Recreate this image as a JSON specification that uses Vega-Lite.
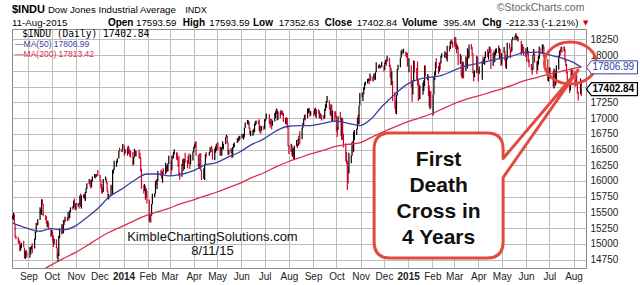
{
"$schema":"https://vega.github.io/schema/vega-lite/v6.json",
"width":574,"height":239,"autosize":"none",
"padding":{"left":12,"top":29,"right":54,"bottom":17},
"background":"white",
"config":{"view":{"stroke":"#8a8a8a","strokeWidth":1},"font":"Liberation Sans"},
"datasets":{
"bars":[
{"d":"2013-08-12","h":15450,"v":15390,"c":15419},{"d":"2013-08-13","h":15498,"v":15380,"c":15451},{"d":"2013-08-14","h":15470,"v":15327,"c":15337},{"d":"2013-08-15","h":15320,"v":15100,"c":15112},{"d":"2013-08-16","h":15130,"v":15071,"c":15081},{"d":"2013-08-19","h":15110,"v":15005,"c":15010},{"d":"2013-08-20","h":15072,"v":14995,"c":15002},{"d":"2013-08-21","h":15050,"v":14880,"c":14897},{"d":"2013-08-22","h":14990,"v":14892,"c":14963},{"d":"2013-08-23","h":15015,"v":14930,"c":15010},{"d":"2013-08-26","h":15050,"v":14944,"c":14946},{"d":"2013-08-27","h":14940,"v":14773,"c":14776},{"d":"2013-08-28","h":14880,"v":14760,"c":14824},{"d":"2013-08-29","h":14902,"v":14798,"c":14840},{"d":"2013-08-30","h":14870,"v":14777,"c":14810},
{"d":"2013-09-03","h":14950,"v":14777,"c":14834},{"d":"2013-09-04","h":14944,"v":14830,"c":14930},{"d":"2013-09-05","h":14970,"v":14910,"c":14937},{"d":"2013-09-06","h":15010,"v":14850,"c":14922},{"d":"2013-09-09","h":15080,"v":14925,"c":15063},{"d":"2013-09-10","h":15195,"v":15065,"c":15191},{"d":"2013-09-11","h":15330,"v":15180,"c":15326},{"d":"2013-09-12","h":15339,"v":15285,"c":15300},{"d":"2013-09-13","h":15390,"v":15300,"c":15376},{"d":"2013-09-16","h":15580,"v":15380,"c":15494},{"d":"2013-09-17","h":15545,"v":15480,"c":15529},{"d":"2013-09-18","h":15709,"v":15460,"c":15676},{"d":"2013-09-19","h":15705,"v":15625,"c":15636},{"d":"2013-09-20","h":15640,"v":15440,"c":15451},{"d":"2013-09-23","h":15455,"v":15380,"c":15401},{"d":"2013-09-24","h":15440,"v":15320,"c":15334},{"d":"2013-09-25","h":15360,"v":15260,"c":15273},{"d":"2013-09-26","h":15370,"v":15270,"c":15328},{"d":"2013-09-27","h":15330,"v":15225,"c":15258},{"d":"2013-09-30","h":15255,"v":15110,"c":15130},
{"d":"2013-10-01","h":15220,"v":15130,"c":15191},{"d":"2013-10-02","h":15190,"v":15040,"c":15133},{"d":"2013-10-03","h":15133,"v":14950,"c":14996},{"d":"2013-10-04","h":15082,"v":14990,"c":15072},{"d":"2013-10-07","h":15070,"v":14932,"c":14936},{"d":"2013-10-08","h":14940,"v":14770,"c":14776},{"d":"2013-10-09","h":14850,"v":14719,"c":14802},{"d":"2013-10-10","h":15130,"v":14805,"c":15126},{"d":"2013-10-11","h":15248,"v":15090,"c":15237},{"d":"2013-10-14","h":15310,"v":15150,"c":15301},{"d":"2013-10-15","h":15310,"v":15160,"c":15168},{"d":"2013-10-16","h":15376,"v":15170,"c":15373},{"d":"2013-10-17","h":15380,"v":15300,"c":15371},{"d":"2013-10-18","h":15430,"v":15350,"c":15399},{"d":"2013-10-21","h":15420,"v":15360,"c":15392},{"d":"2013-10-22","h":15510,"v":15390,"c":15467},{"d":"2013-10-23","h":15470,"v":15370,"c":15413},{"d":"2013-10-24","h":15530,"v":15410,"c":15509},{"d":"2013-10-25","h":15580,"v":15505,"c":15570},{"d":"2013-10-28","h":15600,"v":15540,"c":15568},{"d":"2013-10-29","h":15690,"v":15565,"c":15680},{"d":"2013-10-30","h":15720,"v":15590,"c":15618},{"d":"2013-10-31","h":15640,"v":15535,"c":15545},
{"d":"2013-11-01","h":15650,"v":15545,"c":15615},{"d":"2013-11-04","h":15650,"v":15590,"c":15639},{"d":"2013-11-05","h":15640,"v":15560,"c":15618},{"d":"2013-11-06","h":15770,"v":15620,"c":15746},{"d":"2013-11-07","h":15800,"v":15590,"c":15593},{"d":"2013-11-08","h":15770,"v":15560,"c":15761},{"d":"2013-11-11","h":15790,"v":15730,"c":15783},{"d":"2013-11-12","h":15790,"v":15710,"c":15750},{"d":"2013-11-13","h":15825,"v":15680,"c":15821},{"d":"2013-11-14","h":15885,"v":15810,"c":15876},{"d":"2013-11-15","h":15965,"v":15870,"c":15961},{"d":"2013-11-18","h":16030,"v":15950,"c":15976},{"d":"2013-11-19","h":16010,"v":15920,"c":15968},{"d":"2013-11-20","h":16010,"v":15880,"c":15900},{"d":"2013-11-21","h":16020,"v":15900,"c":16009},{"d":"2013-11-22","h":16070,"v":15990,"c":16064},{"d":"2013-11-25","h":16110,"v":16050,"c":16073},{"d":"2013-11-26","h":16105,"v":16040,"c":16072},{"d":"2013-11-27","h":16110,"v":16060,"c":16097},{"d":"2013-11-29","h":16175,"v":16080,"c":16086},
{"d":"2013-12-02","h":16100,"v":16000,"c":16008},{"d":"2013-12-03","h":16010,"v":15880,"c":15914},{"d":"2013-12-04","h":15950,"v":15800,"c":15889},{"d":"2013-12-05","h":15900,"v":15800,"c":15821},{"d":"2013-12-06","h":16030,"v":15825,"c":16020},{"d":"2013-12-09","h":16070,"v":16010,"c":16025},{"d":"2013-12-10","h":16030,"v":15960,"c":15973},{"d":"2013-12-11","h":15985,"v":15830,"c":15844},{"d":"2013-12-12","h":15850,"v":15725,"c":15740},{"d":"2013-12-13","h":15790,"v":15703,"c":15755},{"d":"2013-12-16","h":15940,"v":15760,"c":15884},{"d":"2013-12-17","h":15905,"v":15850,"c":15875},{"d":"2013-12-18","h":16175,"v":15780,"c":16168},{"d":"2013-12-19","h":16185,"v":16120,"c":16179},{"d":"2013-12-20","h":16320,"v":16175,"c":16221},{"d":"2013-12-23","h":16320,"v":16225,"c":16294},{"d":"2013-12-24","h":16360,"v":16290,"c":16357},{"d":"2013-12-26","h":16483,"v":16355,"c":16479},{"d":"2013-12-27","h":16530,"v":16470,"c":16478},{"d":"2013-12-30","h":16510,"v":16460,"c":16505},{"d":"2013-12-31","h":16588,"v":16500,"c":16577},
{"d":"2014-01-02","h":16573,"v":16400,"c":16441},{"d":"2014-01-03","h":16505,"v":16435,"c":16470},{"d":"2014-01-06","h":16530,"v":16400,"c":16426},{"d":"2014-01-07","h":16560,"v":16430,"c":16531},{"d":"2014-01-08","h":16530,"v":16430,"c":16463},{"d":"2014-01-09","h":16500,"v":16390,"c":16445},{"d":"2014-01-10","h":16480,"v":16370,"c":16437},{"d":"2014-01-13","h":16460,"v":16240,"c":16257},{"d":"2014-01-14","h":16380,"v":16260,"c":16373},{"d":"2014-01-15","h":16510,"v":16375,"c":16482},{"d":"2014-01-16","h":16485,"v":16400,"c":16418},{"d":"2014-01-17","h":16480,"v":16390,"c":16459},{"d":"2014-01-21","h":16500,"v":16360,"c":16414},{"d":"2014-01-22","h":16450,"v":16350,"c":16374},{"d":"2014-01-23","h":16375,"v":16150,"c":16198},{"d":"2014-01-24","h":16195,"v":15875,"c":15880},{"d":"2014-01-27","h":15940,"v":15800,"c":15838},{"d":"2014-01-28","h":15950,"v":15840,"c":15929},{"d":"2014-01-29","h":15920,"v":15700,"c":15739},{"d":"2014-01-30","h":15880,"v":15740,"c":15849},{"d":"2014-01-31","h":15840,"v":15640,"c":15699},
{"d":"2014-02-03","h":15705,"v":15360,"c":15373},{"d":"2014-02-04","h":15480,"v":15340,"c":15445},{"d":"2014-02-05","h":15450,"v":15340,"c":15441},{"d":"2014-02-06","h":15632,"v":15445,"c":15629},{"d":"2014-02-07","h":15798,"v":15630,"c":15795},{"d":"2014-02-10","h":15810,"v":15740,"c":15802},{"d":"2014-02-11","h":16000,"v":15800,"c":15994},{"d":"2014-02-12","h":16010,"v":15940,"c":15964},{"d":"2014-02-13","h":16030,"v":15870,"c":16027},{"d":"2014-02-14","h":16160,"v":16000,"c":16154},{"d":"2014-02-18","h":16170,"v":16080,"c":16130},{"d":"2014-02-19","h":16180,"v":16030,"c":16041},{"d":"2014-02-20","h":16150,"v":15970,"c":16134},{"d":"2014-02-21","h":16200,"v":16090,"c":16104},{"d":"2014-02-24","h":16290,"v":16105,"c":16208},{"d":"2014-02-25","h":16240,"v":16130,"c":16179},{"d":"2014-02-26","h":16260,"v":16150,"c":16198},{"d":"2014-02-27","h":16280,"v":16150,"c":16273},{"d":"2014-02-28","h":16400,"v":16270,"c":16322},
{"d":"2014-03-03","h":16320,"v":16100,"c":16169},{"d":"2014-03-04","h":16400,"v":16170,"c":16396},{"d":"2014-03-05","h":16410,"v":16350,"c":16361},{"d":"2014-03-06","h":16460,"v":16360,"c":16422},{"d":"2014-03-07","h":16505,"v":16420,"c":16453},{"d":"2014-03-10","h":16455,"v":16340,"c":16419},{"d":"2014-03-11","h":16450,"v":16330,"c":16351},{"d":"2014-03-12","h":16355,"v":16220,"c":16341},{"d":"2014-03-13","h":16400,"v":16080,"c":16109},{"d":"2014-03-14","h":16140,"v":16020,"c":16065},{"d":"2014-03-17","h":16270,"v":16065,"c":16247},{"d":"2014-03-18","h":16345,"v":16240,"c":16337},{"d":"2014-03-19","h":16360,"v":16160,"c":16223},{"d":"2014-03-20","h":16350,"v":16190,"c":16332},{"d":"2014-03-21","h":16450,"v":16290,"c":16303},{"d":"2014-03-24","h":16330,"v":16200,"c":16277},{"d":"2014-03-25","h":16400,"v":16278,"c":16368},{"d":"2014-03-26","h":16440,"v":16260,"c":16268},{"d":"2014-03-27","h":16280,"v":16190,"c":16264},{"d":"2014-03-28","h":16420,"v":16265,"c":16323},{"d":"2014-03-31","h":16470,"v":16325,"c":16458},
{"d":"2014-04-01","h":16540,"v":16455,"c":16533},{"d":"2014-04-02","h":16580,"v":16520,"c":16573},{"d":"2014-04-03","h":16620,"v":16540,"c":16573},{"d":"2014-04-04","h":16631,"v":16400,"c":16413},{"d":"2014-04-07","h":16415,"v":16230,"c":16246},{"d":"2014-04-08","h":16265,"v":16190,"c":16257},{"d":"2014-04-09","h":16440,"v":16250,"c":16437},{"d":"2014-04-10","h":16440,"v":16160,"c":16171},{"d":"2014-04-11","h":16170,"v":16015,"c":16027},{"d":"2014-04-14","h":16200,"v":16030,"c":16174},{"d":"2014-04-15","h":16270,"v":16015,"c":16263},{"d":"2014-04-16","h":16430,"v":16265,"c":16425},{"d":"2014-04-17","h":16460,"v":16370,"c":16409},{"d":"2014-04-21","h":16460,"v":16400,"c":16449},{"d":"2014-04-22","h":16540,"v":16450,"c":16515},{"d":"2014-04-23","h":16525,"v":16490,"c":16502},{"d":"2014-04-24","h":16560,"v":16460,"c":16501},{"d":"2014-04-25","h":16500,"v":16340,"c":16361},{"d":"2014-04-28","h":16515,"v":16330,"c":16448},{"d":"2014-04-29","h":16550,"v":16450,"c":16535},{"d":"2014-04-30","h":16590,"v":16480,"c":16581},
{"d":"2014-05-01","h":16600,"v":16520,"c":16558},{"d":"2014-05-02","h":16620,"v":16490,"c":16513},{"d":"2014-05-05","h":16545,"v":16400,"c":16530},{"d":"2014-05-06","h":16535,"v":16395,"c":16402},{"d":"2014-05-07","h":16540,"v":16405,"c":16518},{"d":"2014-05-08","h":16630,"v":16515,"c":16551},{"d":"2014-05-09","h":16590,"v":16500,"c":16583},{"d":"2014-05-12","h":16700,"v":16585,"c":16695},{"d":"2014-05-13","h":16735,"v":16690,"c":16715},{"d":"2014-05-14","h":16720,"v":16600,"c":16614},{"d":"2014-05-15","h":16615,"v":16410,"c":16447},{"d":"2014-05-16","h":16500,"v":16420,"c":16491},{"d":"2014-05-19","h":16520,"v":16440,"c":16512},{"d":"2014-05-20","h":16510,"v":16360,"c":16374},{"d":"2014-05-21","h":16540,"v":16375,"c":16533},{"d":"2014-05-22","h":16590,"v":16520,"c":16543},{"d":"2014-05-23","h":16610,"v":16540,"c":16606},{"d":"2014-05-27","h":16680,"v":16605,"c":16676},{"d":"2014-05-28","h":16690,"v":16620,"c":16634},{"d":"2014-05-29","h":16710,"v":16635,"c":16699},{"d":"2014-05-30","h":16720,"v":16660,"c":16717},
{"d":"2014-06-02","h":16750,"v":16680,"c":16743},{"d":"2014-06-03","h":16740,"v":16680,"c":16722},{"d":"2014-06-04","h":16745,"v":16660,"c":16738},{"d":"2014-06-05","h":16845,"v":16700,"c":16836},{"d":"2014-06-06","h":16930,"v":16840,"c":16924},{"d":"2014-06-09","h":16970,"v":16910,"c":16944},{"d":"2014-06-10","h":16960,"v":16890,"c":16946},{"d":"2014-06-11","h":16945,"v":16830,"c":16844},{"d":"2014-06-12","h":16850,"v":16730,"c":16735},{"d":"2014-06-13","h":16800,"v":16710,"c":16776},{"d":"2014-06-16","h":16810,"v":16720,"c":16781},{"d":"2014-06-17","h":16830,"v":16760,"c":16808},{"d":"2014-06-18","h":16910,"v":16780,"c":16906},{"d":"2014-06-19","h":16950,"v":16880,"c":16921},{"d":"2014-06-20","h":16960,"v":16900,"c":16948},{"d":"2014-06-23","h":16960,"v":16905,"c":16937},{"d":"2014-06-24","h":16980,"v":16800,"c":16818},{"d":"2014-06-25","h":16880,"v":16770,"c":16867},{"d":"2014-06-26","h":16870,"v":16750,"c":16846},{"d":"2014-06-27","h":16870,"v":16800,"c":16851},{"d":"2014-06-30","h":16880,"v":16810,"c":16827},
{"d":"2014-07-01","h":16980,"v":16830,"c":16957},{"d":"2014-07-02","h":16990,"v":16950,"c":16977},{"d":"2014-07-03","h":17074,"v":16980,"c":17068},{"d":"2014-07-07","h":17060,"v":16910,"c":16924},{"d":"2014-07-08","h":16930,"v":16850,"c":16907},{"d":"2014-07-09","h":16990,"v":16900,"c":16985},{"d":"2014-07-10","h":16980,"v":16820,"c":16915},{"d":"2014-07-11","h":16960,"v":16880,"c":16944},{"d":"2014-07-14","h":17080,"v":16945,"c":17055},{"d":"2014-07-15","h":17110,"v":17000,"c":17061},{"d":"2014-07-16","h":17151,"v":17060,"c":17138},{"d":"2014-07-17","h":17140,"v":16960,"c":16976},{"d":"2014-07-18","h":17110,"v":16975,"c":17100},{"d":"2014-07-21","h":17100,"v":17000,"c":17052},{"d":"2014-07-22","h":17130,"v":17050,"c":17114},{"d":"2014-07-23","h":17120,"v":17060,"c":17087},{"d":"2014-07-24","h":17110,"v":17040,"c":17084},{"d":"2014-07-25","h":17080,"v":16940,"c":16961},{"d":"2014-07-28","h":17000,"v":16900,"c":16983},{"d":"2014-07-29","h":17020,"v":16900,"c":16912},{"d":"2014-07-30","h":17000,"v":16840,"c":16881},{"d":"2014-07-31","h":16880,"v":16550,"c":16563},
{"d":"2014-08-01","h":16570,"v":16430,"c":16493},{"d":"2014-08-04","h":16590,"v":16460,"c":16569},{"d":"2014-08-05","h":16570,"v":16400,"c":16429},{"d":"2014-08-06","h":16520,"v":16380,"c":16443},{"d":"2014-08-07","h":16530,"v":16350,"c":16369},{"d":"2014-08-08","h":16560,"v":16333,"c":16554},{"d":"2014-08-11","h":16650,"v":16550,"c":16570},{"d":"2014-08-12","h":16590,"v":16520,"c":16561},{"d":"2014-08-13","h":16670,"v":16560,"c":16651},{"d":"2014-08-14","h":16720,"v":16650,"c":16713},{"d":"2014-08-15","h":16790,"v":16580,"c":16663},{"d":"2014-08-18","h":16850,"v":16665,"c":16839},{"d":"2014-08-19","h":16925,"v":16840,"c":16919},{"d":"2014-08-20","h":16990,"v":16890,"c":16979},{"d":"2014-08-21","h":17050,"v":16975,"c":17039},{"d":"2014-08-22","h":17060,"v":16960,"c":17001},{"d":"2014-08-25","h":17150,"v":17000,"c":17077},{"d":"2014-08-26","h":17150,"v":17075,"c":17107},{"d":"2014-08-27","h":17160,"v":17090,"c":17122},{"d":"2014-08-28","h":17120,"v":17020,"c":17079},{"d":"2014-08-29","h":17110,"v":17040,"c":17098},
{"d":"2014-09-02","h":17110,"v":17030,"c":17068},{"d":"2014-09-03","h":17150,"v":17060,"c":17079},{"d":"2014-09-04","h":17170,"v":17030,"c":17069},{"d":"2014-09-05","h":17140,"v":17000,"c":17138},{"d":"2014-09-08","h":17140,"v":17070,"c":17111},{"d":"2014-09-09","h":17120,"v":17000,"c":17014},{"d":"2014-09-10","h":17080,"v":16990,"c":17068},{"d":"2014-09-11","h":17070,"v":16990,"c":17049},{"d":"2014-09-12","h":17050,"v":16960,"c":16988},{"d":"2014-09-15","h":17050,"v":16980,"c":17031},{"d":"2014-09-16","h":17150,"v":17000,"c":17132},{"d":"2014-09-17","h":17220,"v":17120,"c":17157},{"d":"2014-09-18","h":17270,"v":17160,"c":17266},{"d":"2014-09-19","h":17350,"v":17250,"c":17280},{"d":"2014-09-22","h":17280,"v":17140,"c":17173},{"d":"2014-09-23","h":17170,"v":17050,"c":17056},{"d":"2014-09-24","h":17220,"v":17030,"c":17210},{"d":"2014-09-25","h":17210,"v":16940,"c":16946},{"d":"2014-09-26","h":17120,"v":16950,"c":17114},{"d":"2014-09-29","h":17110,"v":16940,"c":17071},{"d":"2014-09-30","h":17110,"v":17010,"c":17043},
{"d":"2014-10-01","h":17040,"v":16780,"c":16804},{"d":"2014-10-02","h":16860,"v":16700,"c":16801},{"d":"2014-10-03","h":17030,"v":16810,"c":17009},{"d":"2014-10-06","h":17100,"v":16960,"c":16992},{"d":"2014-10-07","h":16990,"v":16710,"c":16720},{"d":"2014-10-08","h":17010,"v":16650,"c":16995},{"d":"2014-10-09","h":16990,"v":16650,"c":16660},{"d":"2014-10-10","h":16750,"v":16530,"c":16544},{"d":"2014-10-13","h":16600,"v":16310,"c":16321},{"d":"2014-10-14","h":16460,"v":16270,"c":16316},{"d":"2014-10-15","h":16320,"v":15855,"c":16142},{"d":"2014-10-16","h":16220,"v":15960,"c":16117},{"d":"2014-10-17","h":16450,"v":16120,"c":16380},{"d":"2014-10-20","h":16410,"v":16280,"c":16400},{"d":"2014-10-21","h":16620,"v":16400,"c":16615},{"d":"2014-10-22","h":16640,"v":16450,"c":16462},{"d":"2014-10-23","h":16780,"v":16465,"c":16677},{"d":"2014-10-24","h":16810,"v":16650,"c":16805},{"d":"2014-10-27","h":16830,"v":16730,"c":16818},{"d":"2014-10-28","h":17010,"v":16820,"c":17005},{"d":"2014-10-29","h":17060,"v":16900,"c":16975},{"d":"2014-10-30","h":17200,"v":16900,"c":17196},{"d":"2014-10-31","h":17400,"v":17200,"c":17391},
{"d":"2014-11-03","h":17410,"v":17330,"c":17367},{"d":"2014-11-04","h":17400,"v":17270,"c":17384},{"d":"2014-11-05","h":17490,"v":17380,"c":17485},{"d":"2014-11-06","h":17560,"v":17450,"c":17554},{"d":"2014-11-07","h":17580,"v":17520,"c":17573},{"d":"2014-11-10","h":17620,"v":17550,"c":17614},{"d":"2014-11-11","h":17630,"v":17580,"c":17615},{"d":"2014-11-12","h":17620,"v":17540,"c":17612},{"d":"2014-11-13","h":17710,"v":17600,"c":17652},{"d":"2014-11-14","h":17670,"v":17590,"c":17635},{"d":"2014-11-17","h":17660,"v":17580,"c":17648},{"d":"2014-11-18","h":17710,"v":17640,"c":17688},{"d":"2014-11-19","h":17700,"v":17600,"c":17686},{"d":"2014-11-20","h":17730,"v":17610,"c":17720},{"d":"2014-11-21","h":17890,"v":17730,"c":17810},{"d":"2014-11-24","h":17840,"v":17790,"c":17818},{"d":"2014-11-25","h":17860,"v":17800,"c":17815},{"d":"2014-11-26","h":17840,"v":17790,"c":17828},{"d":"2014-11-28","h":17895,"v":17810,"c":17828},
{"d":"2014-12-01","h":17830,"v":17740,"c":17777},{"d":"2014-12-02","h":17885,"v":17770,"c":17880},{"d":"2014-12-03","h":17920,"v":17860,"c":17913},{"d":"2014-12-04","h":17940,"v":17830,"c":17901},{"d":"2014-12-05","h":17991,"v":17900,"c":17959},{"d":"2014-12-08","h":17960,"v":17810,"c":17853},{"d":"2014-12-09","h":17850,"v":17640,"c":17801},{"d":"2014-12-10","h":17800,"v":17520,"c":17533},{"d":"2014-12-11","h":17740,"v":17530,"c":17597},{"d":"2014-12-12","h":17590,"v":17270,"c":17281},{"d":"2014-12-15","h":17420,"v":17150,"c":17180},{"d":"2014-12-16","h":17280,"v":17067,"c":17069},{"d":"2014-12-17","h":17370,"v":17060,"c":17357},{"d":"2014-12-18","h":17780,"v":17360,"c":17778},{"d":"2014-12-19","h":17850,"v":17770,"c":17805},{"d":"2014-12-22","h":17965,"v":17810,"c":17959},{"d":"2014-12-23","h":18070,"v":17960,"c":18024},{"d":"2014-12-24","h":18090,"v":18010,"c":18031},{"d":"2014-12-26","h":18103,"v":18030,"c":18053},{"d":"2014-12-29","h":18060,"v":17980,"c":18038},{"d":"2014-12-30","h":18040,"v":17960,"c":17983},{"d":"2014-12-31","h":18040,"v":17820,"c":17823},
{"d":"2015-01-02","h":17950,"v":17730,"c":17833},{"d":"2015-01-05","h":17840,"v":17490,"c":17502},{"d":"2015-01-06","h":17560,"v":17260,"c":17371},{"d":"2015-01-07","h":17600,"v":17375,"c":17585},{"d":"2015-01-08","h":17915,"v":17590,"c":17908},{"d":"2015-01-09","h":17910,"v":17720,"c":17737},{"d":"2015-01-12","h":17800,"v":17600,"c":17641},{"d":"2015-01-13","h":17900,"v":17520,"c":17614},{"d":"2015-01-14","h":17610,"v":17270,"c":17427},{"d":"2015-01-15","h":17550,"v":17300,"c":17321},{"d":"2015-01-16","h":17520,"v":17300,"c":17512},{"d":"2015-01-20","h":17560,"v":17370,"c":17516},{"d":"2015-01-21","h":17600,"v":17430,"c":17555},{"d":"2015-01-22","h":17840,"v":17510,"c":17814},{"d":"2015-01-23","h":17830,"v":17660,"c":17673},{"d":"2015-01-26","h":17700,"v":17600,"c":17679},{"d":"2015-01-27","h":17670,"v":17350,"c":17388},{"d":"2015-01-28","h":17520,"v":17180,"c":17191},{"d":"2015-01-29","h":17430,"v":17140,"c":17417},{"d":"2015-01-30","h":17430,"v":17160,"c":17165},
{"d":"2015-02-02","h":17370,"v":17040,"c":17362},{"d":"2015-02-03","h":17670,"v":17370,"c":17667},{"d":"2015-02-04","h":17740,"v":17600,"c":17673},{"d":"2015-02-05","h":17890,"v":17680,"c":17885},{"d":"2015-02-06","h":17950,"v":17790,"c":17825},{"d":"2015-02-09","h":17830,"v":17700,"c":17730},{"d":"2015-02-10","h":17880,"v":17740,"c":17869},{"d":"2015-02-11","h":17900,"v":17770,"c":17863},{"d":"2015-02-12","h":17990,"v":17870,"c":17973},{"d":"2015-02-13","h":18030,"v":17960,"c":18019},{"d":"2015-02-17","h":18060,"v":17960,"c":18048},{"d":"2015-02-18","h":18050,"v":17970,"c":18029},{"d":"2015-02-19","h":18030,"v":17940,"c":17986},{"d":"2015-02-20","h":18150,"v":17900,"c":18140},{"d":"2015-02-23","h":18150,"v":18060,"c":18117},{"d":"2015-02-24","h":18220,"v":18100,"c":18209},{"d":"2015-02-25","h":18240,"v":18180,"c":18225},{"d":"2015-02-26","h":18250,"v":18170,"c":18215},{"d":"2015-02-27","h":18220,"v":18120,"c":18133},
{"d":"2015-03-02","h":18290,"v":18140,"c":18289},{"d":"2015-03-03","h":18290,"v":18100,"c":18204},{"d":"2015-03-04","h":18200,"v":18030,"c":18097},{"d":"2015-03-05","h":18160,"v":18090,"c":18136},{"d":"2015-03-06","h":18130,"v":17840,"c":17857},{"d":"2015-03-09","h":18020,"v":17860,"c":17996},{"d":"2015-03-10","h":17990,"v":17660,"c":17662},{"d":"2015-03-11","h":17730,"v":17630,"c":17635},{"d":"2015-03-12","h":17900,"v":17640,"c":17895},{"d":"2015-03-13","h":17890,"v":17630,"c":17749},{"d":"2015-03-16","h":17980,"v":17750,"c":17977},{"d":"2015-03-17","h":17970,"v":17820,"c":17849},{"d":"2015-03-18","h":18110,"v":17790,"c":18076},{"d":"2015-03-19","h":18080,"v":17940,"c":17959},{"d":"2015-03-20","h":18170,"v":17960,"c":18128},{"d":"2015-03-23","h":18180,"v":18090,"c":18116},{"d":"2015-03-24","h":18130,"v":18000,"c":18012},{"d":"2015-03-25","h":18030,"v":17710,"c":17718},{"d":"2015-03-26","h":17740,"v":17580,"c":17678},{"d":"2015-03-27","h":17760,"v":17650,"c":17713},{"d":"2015-03-30","h":17990,"v":17715,"c":17977},{"d":"2015-03-31","h":17970,"v":17770,"c":17776},
{"d":"2015-04-01","h":17780,"v":17580,"c":17698},{"d":"2015-04-02","h":17820,"v":17700,"c":17763},{"d":"2015-04-06","h":17910,"v":17610,"c":17880},{"d":"2015-04-07","h":17980,"v":17870,"c":17876},{"d":"2015-04-08","h":17940,"v":17860,"c":17902},{"d":"2015-04-09","h":17970,"v":17850,"c":17958},{"d":"2015-04-10","h":18060,"v":17950,"c":18058},{"d":"2015-04-13","h":18100,"v":17970,"c":17977},{"d":"2015-04-14","h":18050,"v":17930,"c":18036},{"d":"2015-04-15","h":18140,"v":18040,"c":18113},{"d":"2015-04-16","h":18130,"v":18050,"c":18106},{"d":"2015-04-17","h":18100,"v":17780,"c":17826},{"d":"2015-04-20","h":18040,"v":17830,"c":18034},{"d":"2015-04-21","h":18080,"v":17940,"c":17950},{"d":"2015-04-22","h":18050,"v":17890,"c":18038},{"d":"2015-04-23","h":18100,"v":18000,"c":18058},{"d":"2015-04-24","h":18110,"v":18030,"c":18080},{"d":"2015-04-27","h":18160,"v":18030,"c":18038},{"d":"2015-04-28","h":18120,"v":17940,"c":18110},{"d":"2015-04-29","h":18100,"v":17930,"c":18036},{"d":"2015-04-30","h":18030,"v":17830,"c":17841},
{"d":"2015-05-01","h":18030,"v":17850,"c":18024},{"d":"2015-05-04","h":18130,"v":18030,"c":18070},{"d":"2015-05-05","h":18070,"v":17910,"c":17928},{"d":"2015-05-06","h":18010,"v":17800,"c":17842},{"d":"2015-05-07","h":17950,"v":17780,"c":17925},{"d":"2015-05-08","h":18200,"v":17930,"c":18191},{"d":"2015-05-11","h":18190,"v":18100,"c":18105},{"d":"2015-05-12","h":18100,"v":17950,"c":18068},{"d":"2015-05-13","h":18140,"v":18040,"c":18060},{"d":"2015-05-14","h":18255,"v":18065,"c":18252},{"d":"2015-05-15","h":18290,"v":18240,"c":18273},{"d":"2015-05-18","h":18310,"v":18240,"c":18298},{"d":"2015-05-19","h":18351,"v":18280,"c":18313},{"d":"2015-05-20","h":18330,"v":18250,"c":18285},{"d":"2015-05-21","h":18300,"v":18230,"c":18285},{"d":"2015-05-22","h":18290,"v":18220,"c":18232},{"d":"2015-05-26","h":18230,"v":18000,"c":18042},{"d":"2015-05-27","h":18180,"v":18040,"c":18162},{"d":"2015-05-28","h":18160,"v":18060,"c":18126},{"d":"2015-05-29","h":18130,"v":17990,"c":18011},
{"d":"2015-06-01","h":18110,"v":17970,"c":18041},{"d":"2015-06-02","h":18060,"v":17900,"c":18011},{"d":"2015-06-03","h":18130,"v":18020,"c":18076},{"d":"2015-06-04","h":18070,"v":17880,"c":17906},{"d":"2015-06-05","h":17930,"v":17810,"c":17849},{"d":"2015-06-08","h":17860,"v":17760,"c":17767},{"d":"2015-06-09","h":17810,"v":17690,"c":17765},{"d":"2015-06-10","h":18010,"v":17770,"c":18000},{"d":"2015-06-11","h":18100,"v":18000,"c":18039},{"d":"2015-06-12","h":18030,"v":17880,"c":17899},{"d":"2015-06-15","h":17900,"v":17700,"c":17792},{"d":"2015-06-16","h":17910,"v":17760,"c":17905},{"d":"2015-06-17","h":17990,"v":17850,"c":17935},{"d":"2015-06-18","h":18140,"v":17940,"c":18116},{"d":"2015-06-19","h":18120,"v":18010,"c":18015},{"d":"2015-06-22","h":18170,"v":18020,"c":18120},{"d":"2015-06-23","h":18170,"v":18090,"c":18144},{"d":"2015-06-24","h":18140,"v":17960,"c":17967},{"d":"2015-06-25","h":18000,"v":17880,"c":17890},{"d":"2015-06-26","h":17990,"v":17880,"c":17947},{"d":"2015-06-29","h":17940,"v":17590,"c":17597},{"d":"2015-06-30","h":17690,"v":17580,"c":17620},
{"d":"2015-07-01","h":17810,"v":17630,"c":17758},{"d":"2015-07-02","h":17800,"v":17700,"c":17731},{"d":"2015-07-06","h":17740,"v":17500,"c":17684},{"d":"2015-07-07","h":17790,"v":17470,"c":17776},{"d":"2015-07-08","h":17770,"v":17510,"c":17515},{"d":"2015-07-09","h":17740,"v":17520,"c":17549},{"d":"2015-07-10","h":17840,"v":17560,"c":17760},{"d":"2015-07-13","h":17990,"v":17770,"c":17977},{"d":"2015-07-14","h":18070,"v":17970,"c":18054},{"d":"2015-07-15","h":18090,"v":18000,"c":18051},{"d":"2015-07-16","h":18130,"v":18060,"c":18120},{"d":"2015-07-17","h":18140,"v":18040,"c":18086},{"d":"2015-07-20","h":18137,"v":18060,"c":18100},{"d":"2015-07-21","h":18100,"v":17900,"c":17920},{"d":"2015-07-22","h":17930,"v":17830,"c":17851},{"d":"2015-07-23","h":17860,"v":17710,"c":17732},{"d":"2015-07-24","h":17740,"v":17560,"c":17569},{"d":"2015-07-27","h":17570,"v":17400,"c":17441},{"d":"2015-07-28","h":17640,"v":17440,"c":17631},{"d":"2015-07-29","h":17790,"v":17630,"c":17751},{"d":"2015-07-30","h":17760,"v":17630,"c":17746},{"d":"2015-07-31","h":17770,"v":17670,"c":17690},
{"d":"2015-08-03","h":17700,"v":17500,"c":17599},{"d":"2015-08-04","h":17610,"v":17520,"c":17550},{"d":"2015-08-05","h":17690,"v":17520,"c":17540},{"d":"2015-08-06","h":17570,"v":17390,"c":17420},{"d":"2015-08-07","h":17420,"v":17280,"c":17373},{"d":"2015-08-10","h":17630,"v":17380,"c":17615},{"d":"2015-08-11","h":17594,"v":17353,"c":17403}
],
"ma":[
{"d":"2013-08-12","m50":15330,"m200":14400},{"d":"2013-08-30","m50":15250,"m200":14460},{"d":"2013-09-16","m50":15200,"m200":14560},{"d":"2013-09-30","m50":15240,"m200":14660},{"d":"2013-10-15","m50":15220,"m200":14760},{"d":"2013-10-31","m50":15280,"m200":14860},{"d":"2013-11-15","m50":15420,"m200":14970},{"d":"2013-11-29","m50":15560,"m200":15080},{"d":"2013-12-13","m50":15740,"m200":15180},{"d":"2013-12-31","m50":15880,"m200":15280},
{"d":"2014-01-15","m50":16010,"m200":15370},{"d":"2014-01-31","m50":16110,"m200":15455},{"d":"2014-02-14","m50":16110,"m200":15510},{"d":"2014-02-28","m50":16080,"m200":15565},{"d":"2014-03-14","m50":16100,"m200":15630},{"d":"2014-03-31","m50":16160,"m200":15695},{"d":"2014-04-15","m50":16250,"m200":15760},{"d":"2014-04-30","m50":16290,"m200":15820},{"d":"2014-05-15","m50":16380,"m200":15890},{"d":"2014-05-30","m50":16460,"m200":15960},{"d":"2014-06-13","m50":16570,"m200":16045},{"d":"2014-06-30","m50":16670,"m200":16130},{"d":"2014-07-15","m50":16790,"m200":16220},{"d":"2014-07-31","m50":16870,"m200":16305},{"d":"2014-08-15","m50":16880,"m200":16370},{"d":"2014-08-29","m50":16880,"m200":16430},{"d":"2014-09-15","m50":16920,"m200":16490},{"d":"2014-09-30","m50":16950,"m200":16550},{"d":"2014-10-15","m50":16920,"m200":16580},{"d":"2014-10-31","m50":16880,"m200":16605},{"d":"2014-11-14","m50":16980,"m200":16690},{"d":"2014-11-28","m50":17180,"m200":16770},{"d":"2014-12-15","m50":17380,"m200":16860},{"d":"2014-12-31","m50":17540,"m200":16940},
{"d":"2015-01-15","m50":17620,"m200":17000},{"d":"2015-01-30","m50":17650,"m200":17065},{"d":"2015-02-13","m50":17680,"m200":17140},{"d":"2015-02-27","m50":17750,"m200":17220},{"d":"2015-03-13","m50":17820,"m200":17285},{"d":"2015-03-31","m50":17870,"m200":17350},{"d":"2015-04-15","m50":17910,"m200":17405},{"d":"2015-04-30","m50":17950,"m200":17460},{"d":"2015-05-15","m50":17990,"m200":17525},{"d":"2015-05-29","m50":18040,"m200":17590},{"d":"2015-06-15","m50":18050,"m200":17645},{"d":"2015-06-30","m50":18010,"m200":17695},{"d":"2015-07-15","m50":17960,"m200":17740},{"d":"2015-07-31","m50":17890,"m200":17786},{"d":"2015-08-11","m50":17807,"m200":17813}
]
},
"encoding":{
 "x":{"field":"d","type":"temporal","scale":{"type":"utc","domain":[{"year":2013,"month":8,"date":11,"utc":true},{"year":2015,"month":8,"date":17,"utc":true}],"nice":false},
  "axis":{"title":null,"orient":"bottom","grid":true,"gridColor":"#bdbdbd","gridOpacity":1,"gridWidth":1,"ticks":false,"domain":false,"labelOverlap":false,"labelFlush":false,"labelPadding":3,"labelFont":"Liberation Sans","labelFontSize":10,"labelColor":"#222222","tickCount":{"interval":"month","step":1},"labelExpr":"utcmonth(datum.value) == 0 ? utcFormat(datum.value, '%Y') : utcFormat(datum.value, '%b')","labelFontWeight":{"condition":{"test":"utcmonth(datum.value) == 0","value":"bold"},"value":"normal"}}},
 "y":{"field":"v","type":"quantitative","scale":{"domain":[14615,18417],"nice":false,"zero":false},
  "axis":{"title":null,"orient":"right","values":[14750,15000,15250,15500,15750,16000,16250,16500,16750,17000,17250,17500,17750,18000,18250],"grid":true,"gridColor":"#bdbdbd","gridOpacity":1,"gridWidth":1,"ticks":false,"domain":false,"labelOverlap":false,"labelFlush":false,"labelPadding":4,"labelFont":"Liberation Sans","labelFontSize":10,"labelColor":"#222222","format":"d"}}
},
"layer":[
{"data":{"name":"bars"},
 "transform":[{"window":[{"op":"lag","field":"c","as":"pc"}],"sort":[{"field":"d"}]}],
 "mark":{"type":"rule","strokeWidth":1.2,"clip":true},
 "encoding":{"y2":{"field":"h"},"color":{"condition":{"test":"datum.c < datum.pc","value":"#d40028"},"value":"#000000"}}},
{"data":{"name":"ma"},
 "transform":[{"fold":["m200","m50"],"as":["s","v"]}],
 "mark":{"type":"line","strokeWidth":1.3,"interpolate":"monotone","clip":true},
 "encoding":{"color":{"field":"s","type":"nominal","scale":{"domain":["m50","m200"],"range":["#3a3fa0","#d8304c"]},"legend":null}}},
{"data":{"values":[{"d":"2015-02-09","v":15768}]},
 "mark":{"type":"point","shape":"M -48.5 -62.5 L 48.5 -62.5 Q 64.5 -62.5 64.5 -46.5 L 64.5 -37 L 139.5 -125.5 L 64.5 -18 L 64.5 46.5 Q 64.5 62.5 48.5 62.5 L -48.5 62.5 Q -64.5 62.5 -64.5 46.5 L -64.5 -46.5 Q -64.5 -62.5 -48.5 -62.5 Z","size":4,"filled":true,"fill":"white","stroke":"#e04a3f","strokeWidth":3,"opacity":1,"strokeJoin":"round"}},
{"data":{"values":[{"d":"2015-07-28","v":17876}]},
 "mark":{"type":"point","shape":"M 26 0 C 26 11.6 14.36 21 0 21 C -14.36 21 -26 11.6 -26 0 C -26 -11.6 -14.36 -21 0 -21 C 14.36 -21 26 -11.6 26 0 Z","size":4,"filled":false,"stroke":"#e04a3f","strokeWidth":3,"opacity":1}},
{"data":{"values":[{"d":"2015-02-09","v":16333,"t":"First\nDeath\nCross in\n4 Years"}]},
 "mark":{"type":"text","font":"Liberation Sans","fontSize":21,"fontWeight":"bold","lineBreak":"\n","lineHeight":26,"align":"center","baseline":"middle","color":"#111111"},
 "encoding":{"text":{"field":"t"}}},
{"data":{"values":[{"d":"2014-04-25","v":15108,"t":"KimbleChartingSolutions.com"},{"d":"2014-04-25","v":14885,"t":"8/11/15"}]},
 "mark":{"type":"text","font":"Liberation Sans","fontSize":13,"align":"center","baseline":"middle","color":"#111111"},
 "encoding":{"text":{"field":"t"}}},
{"data":{"values":[{"d":"2013-08-24","v":18337,"t":"$INDU (Daily) 17402.84"}]},
 "mark":{"type":"text","font":"DejaVu Sans Mono","fontSize":9.6,"align":"left","baseline":"middle","color":"#000000"},
 "encoding":{"text":{"field":"t"}}},
{"data":{"values":[{"d":"2013-08-15","v":18178,"t":"—MA(50) 17806.99","k":"m50"},{"d":"2013-08-15","v":18019,"t":"—MA(200) 17813.42","k":"m200"}]},
 "mark":{"type":"text","font":"Liberation Sans","fontSize":8.5,"align":"left","baseline":"middle"},
 "encoding":{"text":{"field":"t"},"color":{"field":"k","type":"nominal","scale":{"domain":["m50","m200"],"range":["#3a3fa0","#d8304c"]},"legend":null}}},
{"data":{"values":[{"d":"2015-08-24","v":17807}]},
 "mark":{"type":"point","shape":"M -5 0 L 0 -6.5 L 46 -6.5 L 46 6.5 L 0 6.5 Z","size":4,"filled":true,"fill":"white","stroke":"#3a3fa0","strokeWidth":1,"opacity":1}},
{"data":{"values":[{"d":"2015-08-24","v":17460}]},
 "mark":{"type":"point","shape":"M -5 0 L 0 -6.5 L 46 -6.5 L 46 6.5 L 0 6.5 Z","size":4,"filled":true,"fill":"white","stroke":"#000000","strokeWidth":1.2,"opacity":1}},
{"data":{"values":[{"d":"2015-08-24","v":17807,"t":"17806.99"}]},
 "mark":{"type":"text","font":"Liberation Sans","fontSize":10,"align":"left","baseline":"middle","dx":1,"color":"#2c3e9e"},
 "encoding":{"text":{"field":"t"}}},
{"data":{"values":[{"d":"2015-08-24","v":17460,"t":"17402.84"}]},
 "mark":{"type":"text","font":"Liberation Sans","fontSize":10,"fontWeight":"bold","align":"left","baseline":"middle","dx":1,"color":"#000000"},
 "encoding":{"text":{"field":"t"}}},
{"data":{"values":[{"d":"2013-08-11","v":18719,"t":"$INDU"}]},
 "mark":{"type":"text","font":"Liberation Sans","fontSize":11,"fontWeight":"bold","align":"left","baseline":"middle","color":"#000000"},
 "encoding":{"text":{"field":"t"}}},
{"data":{"values":[{"d":"2013-12-12","v":18512,"t":"Open"},{"d":"2014-03-18","v":18512,"t":"High"},{"d":"2014-06-16","v":18512,"t":"Low"},{"d":"2014-09-16","v":18512,"t":"Close"},{"d":"2014-12-24","v":18512,"t":"Volume"},{"d":"2015-04-06","v":18512,"t":"Chg"}]},
 "mark":{"type":"text","font":"Liberation Sans","fontSize":10,"fontWeight":"bold","align":"left","baseline":"middle","color":"#000000"},
 "encoding":{"text":{"field":"t"}}},
{"data":{"values":[{"d":"2013-09-26","v":18719,"t":"Dow Jones Industrial Average"},{"d":"2013-08-11","v":18512,"t":"11-Aug-2015"},{"d":"2014-01-17","v":18512,"t":"17593.59"},{"d":"2014-04-21","v":18512,"t":"17593.59"},{"d":"2014-07-19","v":18512,"t":"17352.63"},{"d":"2014-10-27","v":18512,"t":"17402.84"},{"d":"2015-02-15","v":18512,"t":"395.4M"},{"d":"2015-05-06","v":18512,"t":"-212.33 (-1.21%)"}]},
 "mark":{"type":"text","font":"Liberation Sans","fontSize":9.7,"align":"left","baseline":"middle","color":"#000000"},
 "encoding":{"text":{"field":"t"}}},
{"data":{"values":[{"d":"2014-03-21","v":18719,"t":"INDX"}]},
 "mark":{"type":"text","font":"Liberation Sans","fontSize":9,"align":"left","baseline":"middle","color":"#000000"},
 "encoding":{"text":{"field":"t"}}},
{"data":{"values":[{"d":"2015-08-15","v":18751,"t":"©StockCharts.com"}]},
 "mark":{"type":"text","font":"Liberation Sans","fontSize":10.5,"align":"right","baseline":"middle","color":"#666666"},
 "encoding":{"text":{"field":"t"}}},
{"data":{"values":[{"d":"2015-08-13","v":18512,"t":"▼"}]},
 "mark":{"type":"text","font":"DejaVu Sans","fontSize":7,"align":"left","baseline":"middle","color":"#cc0000"},
 "encoding":{"text":{"field":"t"}}}
]
}
